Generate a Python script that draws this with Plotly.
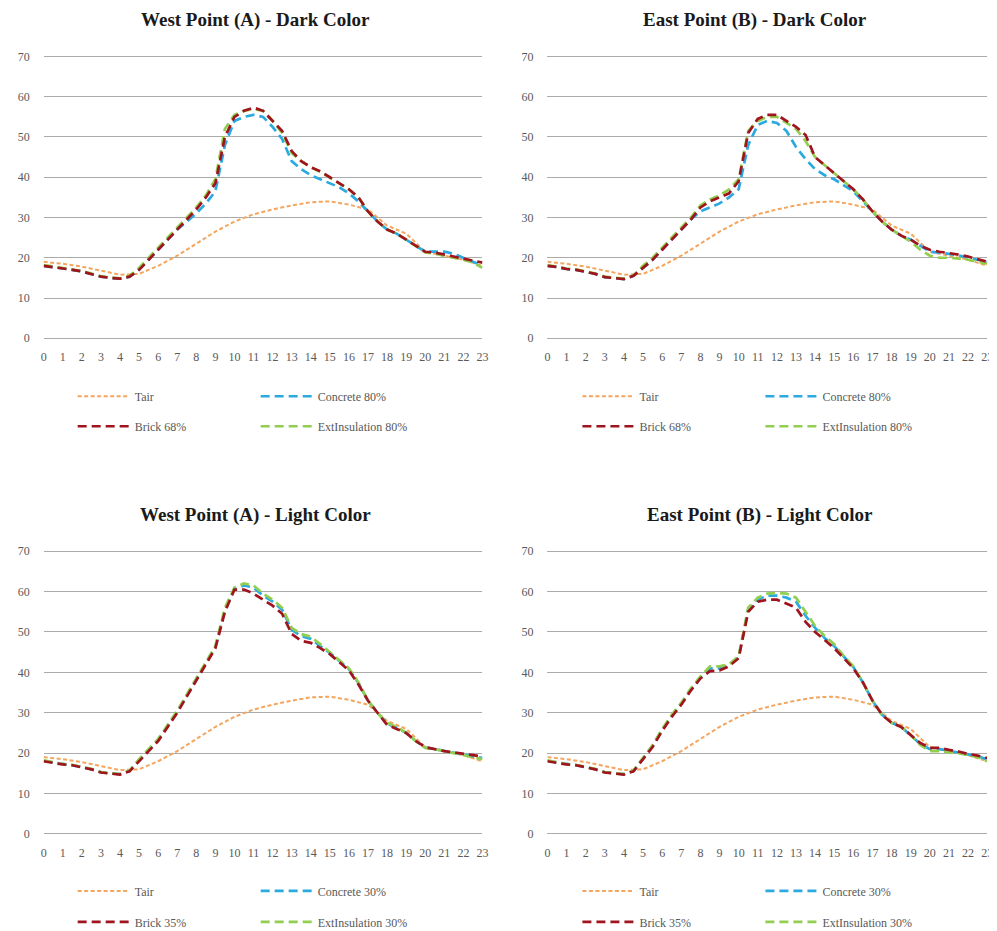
import plotly.graph_objects as go

# ---------------- data ----------------
hours = list(range(24))                      # hourly axis (Tair)
hours_half = [h / 2 for h in range(47)]      # half-hour sampling of surface temps
tick_labels = [str(h) for h in hours]

tair = [19, 18.5, 17.8, 16.8, 15.8, 16, 18, 20.5, 23.5, 26.5, 29, 30.8,
        32, 33, 33.8, 34, 33.2, 32, 28, 26, 21.5, 20.5, 19.5, 18]

# West Point (A) - Dark Color
wd_concrete = [18, 17.7, 17.3, 17, 16.6, 16, 15.3, 15, 14.8, 15.3, 17, 19.5, 22, 24.5, 27, 29, 31, 33.5,
               36.5, 48, 54, 55, 55.5, 55, 52.5, 49.5, 44, 42, 40.5, 39.5, 38.5, 37.5, 36, 34, 31.5, 29,
               27, 26, 24.5, 23, 21.5, 21.5, 21.5, 21, 20, 19, 18]
wd_brick = [18, 17.7, 17.3, 17, 16.6, 16, 15.3, 15, 14.8, 15.3, 17, 19.5, 22, 24.5, 27, 29.5, 32, 35,
            38.5, 50, 55, 56.5, 57.3, 56.5, 54, 51.5, 46.5, 44, 42.5, 41.5, 40, 38.5, 37, 35, 31.5, 29,
            27, 26, 24.5, 23, 21.5, 21.3, 20.8, 20.3, 19.8, 19.3, 18.8]
wd_ext = [18.2, 17.8, 17.4, 17.1, 16.7, 16.1, 15.4, 15.1, 14.9, 15.5, 17.5, 20, 22.5, 25, 27.5, 30, 32.5, 35.5,
          39.5, 52, 55.5, 56.5, 57, 56.5, 54, 51, 46, 44, 42.5, 41.3, 40, 38.5, 37, 35, 31.5, 29,
          27, 26, 24.5, 23, 21.3, 21, 20.5, 20, 19.5, 18.8, 17.5]

# East Point (B) - Dark Color
ed_concrete = [18, 17.7, 17.2, 17, 16.5, 16, 15.2, 15, 14.7, 15.5, 17.5, 19.5, 22, 24.5, 27, 29.5, 31.5, 32.5,
               33.5, 35, 37, 48, 53, 54, 53.5, 51.5, 47.5, 44.5, 42, 40.5, 39.5, 38, 36.5, 34, 31.5, 29,
               27, 25.5, 24.5, 23, 21.5, 21.3, 21, 20.6, 20, 19.5, 19]
ed_brick = [18, 17.7, 17.2, 17, 16.5, 16, 15.2, 15, 14.7, 15.5, 17.5, 19.5, 22, 24.5, 27, 29.5, 32.5, 34,
            35, 36, 39, 51, 54.5, 55.5, 55.5, 54, 52.5, 50.5, 45, 43, 41, 39, 37, 34.5, 31.5, 29,
            27, 25.5, 24.5, 23, 22, 21.5, 21.2, 20.8, 20.3, 19.7, 19]
ed_ext = [18.2, 17.8, 17.3, 17.1, 16.6, 16.1, 15.3, 15.1, 14.8, 15.6, 18, 20, 22.5, 25, 27.5, 30, 33, 34.5,
          35.5, 37, 39.5, 51.5, 54, 55, 55, 53.5, 52, 49, 45, 43, 41, 39, 37, 34.5, 31.5, 29,
          27, 25.5, 24, 22, 20.5, 20, 20, 19.8, 19.5, 19, 18.5]

# West Point (A) - Light Color
wl_concrete = [18.1, 17.7, 17.3, 17, 16.6, 16, 15.3, 15, 14.8, 15.6, 18.3, 20.8, 23.3, 26.8, 30.3, 34.3, 38.3, 42.3,
               46.3, 55.5, 60.8, 61.5, 61, 59, 57.5, 55.5, 50.5, 49, 48.3, 46.5, 44.8, 42.8, 40.8, 37.3, 33, 30,
               27.3, 26.3, 25, 23, 21.4, 21, 20.5, 20.1, 19.7, 19.2, 18.8]
wl_brick = [18, 17.6, 17.2, 17, 16.5, 16, 15.2, 15, 14.7, 15.5, 18, 20.5, 23, 26.5, 30, 34, 38, 42,
            46, 55, 60.5, 60.5, 59.5, 58, 56.5, 54.5, 49.5, 47.8, 47.3, 46, 44.5, 42.5, 40.5, 37, 33, 30,
            27, 26, 25, 23, 21.5, 21, 20.5, 20.2, 19.8, 19.5, 19.2]
wl_ext = [18.2, 17.7, 17.3, 17.1, 16.6, 16.1, 15.3, 15.1, 14.8, 15.7, 18.5, 21, 23.5, 27, 30.5, 34.5, 38.5, 42.5,
          46.5, 56, 61, 62, 61.5, 59.5, 58, 56, 51, 49.5, 48.8, 47, 45, 43, 41, 37.5, 33, 30,
          27.5, 26.5, 25, 23, 21.3, 21, 20.5, 20, 19.5, 19, 18.5]

# East Point (B) - Light Color
el_concrete = [18.1, 17.7, 17.3, 17, 16.6, 16, 15.3, 15, 14.8, 15.6, 18.8, 21.8, 25.8, 29.3, 32.3, 35.8, 38.8, 41,
               41, 41.8, 43.8, 55.5, 58, 59, 59, 58.5, 57.5, 54, 51, 48.5, 46.5, 43.8, 41.3, 37.5, 33, 29.5,
               27.5, 26.5, 24.5, 22.3, 21, 21, 20.6, 20.2, 19.7, 19.2, 18.5]
el_brick = [18, 17.6, 17.2, 17, 16.5, 16, 15.2, 15, 14.7, 15.5, 18.5, 21.5, 25.5, 29, 32, 35.5, 38.5, 40.3,
            40.5, 41.5, 43.5, 55, 57.5, 58, 58, 57, 56, 52.5, 50, 48, 46, 43.5, 41, 37.5, 33, 29.5,
            27.5, 26.5, 24.5, 22.5, 21.3, 21.3, 20.8, 20.4, 19.8, 19.4, 18.8]
el_ext = [18.2, 17.7, 17.3, 17.1, 16.6, 16.1, 15.3, 15.1, 14.8, 15.7, 19, 22, 26, 29.5, 32.5, 36, 39, 41.5,
          41.5, 42, 44, 56, 58.5, 59.5, 59.7, 59.5, 58.5, 55, 51.5, 49, 47, 44, 41.5, 37.5, 33, 29.5,
          27.5, 26.5, 24.5, 22, 20.5, 20.5, 20.3, 20, 19.5, 19, 18]

titles = ["West Point (A) - Dark Color", "East Point (B) - Dark Color",
          "West Point (A) - Light Color", "East Point (B) - Light Color"]
concrete_names = ["Concrete 80%", "Concrete 80%", "Concrete 30%", "Concrete 30%"]
brick_names = ["Brick 68%", "Brick 68%", "Brick 35%", "Brick 35%"]
ext_names = ["ExtInsulation 80%", "ExtInsulation 80%", "ExtInsulation 30%", "ExtInsulation 30%"]
concrete_series = [wd_concrete, ed_concrete, wl_concrete, el_concrete]
brick_series = [wd_brick, ed_brick, wl_brick, el_brick]
ext_series = [wd_ext, ed_ext, wl_ext, el_ext]

# ---------------- styling / layout ----------------
W, H = 1000, 940
# observed mapping from figure px to screen px: screen = S * fig + B
SX, BX, SY, BY = 0.9915, 10.3, 0.990, 11.5
FONT = "Liberation Serif"
C_TAIR, C_CONC, C_BRICK, C_EXT = "#F4A55E", "#2AAAE0", "#A0141E", "#92CF50"
GRID = "#ABABAB"
TXT = "#595959"

# target screen boxes of the plot areas: (left, right, top, bottom), y range -0.5..70.5
boxes = [(43, 482, 53, 339), (547, 987, 53, 339), (43, 482, 548, 835), (547, 987, 548, 835)]
title_pos = [(255, 19), (755, 19), (255, 514), (760, 514)]
legend_rows = [(395, 425), (395, 425), (890, 921), (890, 921)]
legend_left = [77, 582, 77, 582]


def px(x):
    return ((x - BX) / SX) / W


def py(y):
    return 1 - ((y - BY) / SY) / H


fig = go.Figure()
layout = dict(width=W, height=H, margin=dict(l=0, r=0, t=0, b=0, pad=0),
              paper_bgcolor="white", plot_bgcolor="white", showlegend=True,
              font=dict(family=FONT, color=TXT, size=12), annotations=[])

for i in range(4):
    ax = "" if i == 0 else str(i + 1)
    xa, ya = "x" + ax, "y" + ax
    lg1 = "legend" if i == 0 else "legend%d" % (2 * i + 1)
    lg2 = "legend%d" % (2 * i + 2)
    traces = [
        (hours, tair, "Tair", C_TAIR, 2.0, "4px,2.5px", lg1, 1),
        (hours_half, concrete_series[i], concrete_names[i], C_CONC, 2.7, "9px,5px", lg1, 2),
        (hours_half, ext_series[i], ext_names[i], C_EXT, 2.7, "9px,5px", lg2, 2),
        (hours_half, brick_series[i], brick_names[i], C_BRICK, 2.7, "9px,5px", lg2, 1),
    ]
    for xs, ys, name, col, w, dash, lg, rank in traces:
        fig.add_trace(go.Scatter(x=xs, y=ys, name=name, mode="lines", xaxis=xa, yaxis=ya,
                                 line=dict(color=col, width=w, dash=dash),
                                 legend=lg, legendrank=rank, hoverinfo="skip"))
    l, r, t, b = boxes[i]
    layout["xaxis" + ax] = dict(domain=[px(l), min(1.0, px(r))], range=[0, 23], anchor=ya,
                               tickmode="array", tickvals=hours, ticktext=tick_labels,
                               showgrid=False, zeroline=False, showline=False, ticks="",
                               ticklabelstandoff=8,
                               tickfont=dict(family=FONT, size=12, color=TXT), fixedrange=True)
    layout["yaxis" + ax] = dict(domain=[py(b), py(t)], range=[-0.5, 70.5], anchor=xa,
                               tickmode="array", tickvals=[0, 10, 20, 30, 40, 50, 60, 70],
                               showgrid=True, gridcolor=GRID, gridwidth=1.4, zeroline=False,
                               showline=False, ticks="", ticklabelstandoff=13,
                               tickfont=dict(family=FONT, size=12, color=TXT), fixedrange=True)
    tx, ty = title_pos[i]
    layout["annotations"].append(dict(text="<b>" + titles[i] + "</b>", x=px(tx), y=py(ty),
                                      xref="paper", yref="paper", showarrow=False,
                                      xanchor="center", yanchor="middle",
                                      font=dict(family=FONT, size=19, color="#1a1a1a")))
    r1, r2 = legend_rows[i]
    for lg, ry in ((lg1, r1), (lg2, r2)):
        layout[lg] = dict(x=px(legend_left[i] - 5), y=py(ry), xanchor="left", yanchor="middle",
                          orientation="h", entrywidth=116, entrywidthmode="pixels",
                          itemwidth=52, bgcolor="rgba(0,0,0,0)", borderwidth=0,
                          font=dict(family=FONT, size=12, color=TXT), traceorder="normal",
                          itemclick=False, itemdoubleclick=False)

fig.update_layout(**layout)
fig.write_html("out.html")
